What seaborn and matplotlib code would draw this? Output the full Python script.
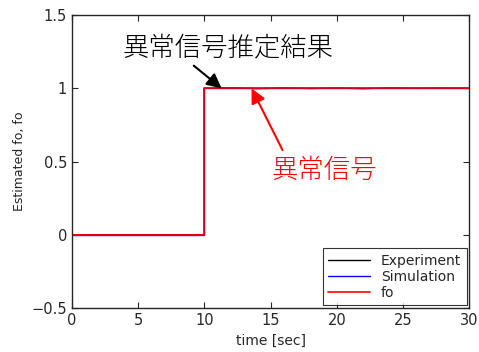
import pandas as pd
import matplotlib
matplotlib.use("Agg")
import matplotlib.pyplot as plt
import seaborn as sns

# step responses (time in sec)
t_sim = [0, 10, 10, 30]
sim = [0, 0, 1, 1]
t_fo = [0, 10, 10, 30]
fo = [0, 0, 1, 1]
t_exp = [0, 5, 10, 10, 12, 14, 16, 18, 20, 22, 24, 26, 28, 30]
exp = [0, 0, 0, 1, 1.004, 0.998, 1.003, 0.999, 1.002, 0.998, 1.003, 1.0, 1.002, 1.0]

sns.set_style("ticks")
plt.rcParams['font.family'] = ['DejaVu Sans', 'Noto Sans CJK JP']
plt.rcParams['xtick.direction'] = 'in'
plt.rcParams['ytick.direction'] = 'in'

fig, ax = plt.subplots(figsize=(4.79, 3.52), dpi=100)
sns.lineplot(x=t_exp, y=exp, color='black', lw=1, label='Experiment', ax=ax,
             sort=False, estimator=None)
sns.lineplot(x=t_sim, y=sim, color='blue', lw=1, label='Simulation', ax=ax,
             sort=False, estimator=None)
sns.lineplot(x=t_fo, y=fo, color='red', lw=1.2, label='fo', ax=ax,
             sort=False, estimator=None)

ax.set_xlim(0, 30)
ax.set_ylim(-0.5, 1.5)
ax.set_xticks([0, 5, 10, 15, 20, 25, 30])
ax.set_yticks([-0.5, 0, 0.5, 1, 1.5])
ax.set_yticklabels(['\u22120.5', '0', '0.5', '1', '1.5'])
ax.tick_params(top=True, right=True, labelsize=10.5, length=4, width=0.8)
for s in ax.spines.values():
    s.set_visible(True)
    s.set_linewidth(1)
ax.set_xlabel('time [sec]', fontsize=10)
ax.set_ylabel('Estimated fo, fo', fontsize=9)

jp = ['Noto Sans CJK JP', 'DejaVu Sans']
ax.text(11.76, 1.28, '異常信号推定結果', ha='center', va='center',
        fontsize=19, family=jp, color='black', fontweight='light')
ax.annotate('', xy=(11.3, 1.0), xytext=(9.2, 1.155),
            arrowprops=dict(arrowstyle='-|>', color='black', lw=1.5,
                            mutation_scale=22, shrinkA=0, shrinkB=0))
ax.text(19.07, 0.44, '異常信号', ha='center', va='center',
        fontsize=19, family=jp, color='red', fontweight='light')
ax.annotate('', xy=(13.56, 1.0), xytext=(15.9, 0.578),
            arrowprops=dict(arrowstyle='-|>', color='red', lw=1.5,
                            mutation_scale=22, shrinkA=0, shrinkB=0))

leg = ax.legend(loc='lower right', fontsize=10, frameon=True, fancybox=False,
                edgecolor='black', handlelength=3, borderaxespad=0.2,
                labelspacing=0.15)
leg.get_frame().set_linewidth(0.8)

fig.subplots_adjust(left=0.15, right=0.98, bottom=0.125, top=0.957)
fig.savefig('out.png', dpi=100)
